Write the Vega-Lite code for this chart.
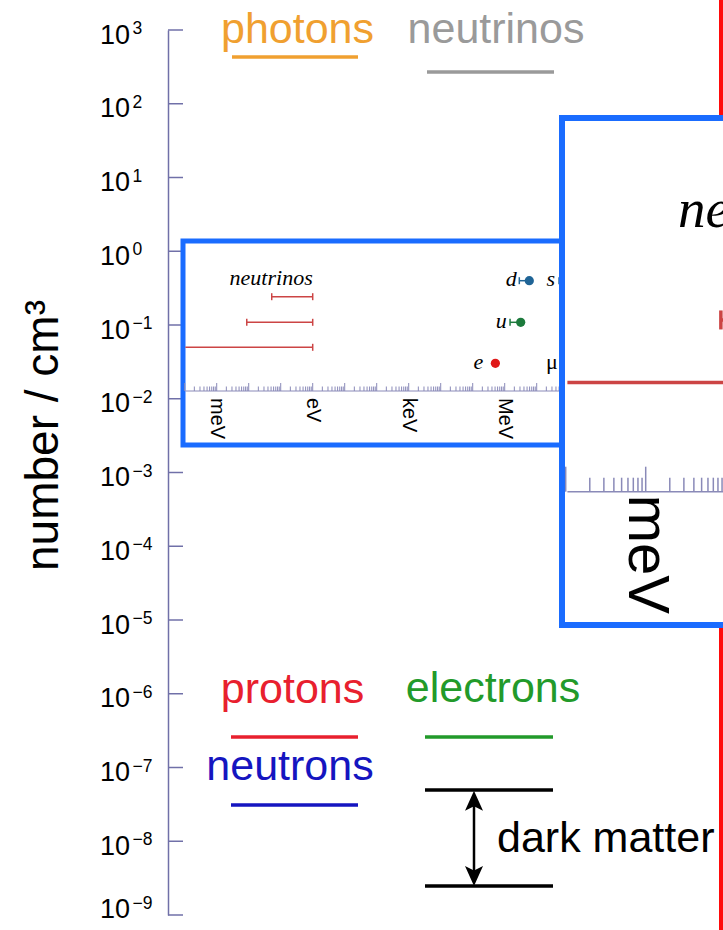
{
  "$schema": "https://vega.github.io/schema/vega-lite/v6.json",
  "width": 555,
  "height": 885,
  "autosize": {"type": "none"},
  "padding": {"left": 168, "top": 30, "right": 0, "bottom": 15},
  "background": "white",
  "config": {"view": {"stroke": null}},
  "datasets": {
    "decades": [{"n": 1e-9, "e": "−9"}, {"n": 1e-8, "e": "−8"}, {"n": 1e-7, "e": "−7"}, {"n": 1e-6, "e": "−6"}, {"n": 1e-5, "e": "−5"}, {"n": 1e-4, "e": "−4"}, {"n": 1e-3, "e": "−3"}, {"n": 0.01, "e": "−2"}, {"n": 0.1, "e": "−1"}, {"n": 1, "e": "0"}, {"n": 10, "e": "1"}, {"n": 100, "e": "2"}, {"n": 1000, "e": "3"}],
    "legendText": [
      {"key": "photons", "x": 129.5, "y": 13},
      {"key": "neutrinos", "x": 328, "y": 13},
      {"key": "protons", "x": 124.5, "y": 673},
      {"key": "electrons", "x": 325, "y": 672},
      {"key": "neutrons", "x": 122, "y": 750}
    ],
    "dmText": [{"key": "dark matter", "x": 329, "y": 822}],
    "legendLines": [
      {"key": "photons", "x": 64, "x2": 190, "y": 27},
      {"key": "neutrinos", "x": 259, "x2": 386, "y": 42},
      {"key": "protons", "x": 63, "x2": 190, "y": 707},
      {"key": "electrons", "x": 257, "x2": 385, "y": 707},
      {"key": "neutrons", "x": 63, "x2": 190, "y": 775},
      {"key": "dark matter", "x": 257, "x2": 385, "y": 760},
      {"key": "dark matter", "x": 257, "x2": 385, "y": 856}
    ],
    "arrowShaft": [{"x": 306, "y": 765, "y2": 851}],
    "arrowHeads": [{"dir": "up", "x": 306, "y": 770.7}, {"dir": "down", "x": 306, "y": 846}],
    "redLine": [{"x": 553, "y": -30, "y2": 900}],
    "box1": [{"x": 15, "x2": 394, "y": 211, "y2": 415}],
    "box2": [{"x": 394, "x2": 580, "y": 88, "y2": 595}],
    "axisLine": [{"E": 1.05e-4, "E2": 1e9, "v": 0}],
    "majorTicks": [{"E": 1e-4, "v": 0}, {"E": 1e-3, "v": 0}, {"E": 0.01, "v": 0}, {"E": 0.1, "v": 0}, {"E": 1, "v": 0}, {"E": 10, "v": 0}, {"E": 100, "v": 0}, {"E": 1000, "v": 0}, {"E": 1e4, "v": 0}, {"E": 1e5, "v": 0}, {"E": 1e6, "v": 0}, {"E": 1e7, "v": 0}, {"E": 1e8, "v": 0}],
    "minorTicks": [
      {"E": 2e-4, "v": 0}, {"E": 3e-4, "v": 0}, {"E": 4e-4, "v": 0}, {"E": 5e-4, "v": 0}, {"E": 6e-4, "v": 0}, {"E": 7e-4, "v": 0}, {"E": 8e-4, "v": 0}, {"E": 9e-4, "v": 0},
      {"E": 2e-3, "v": 0}, {"E": 3e-3, "v": 0}, {"E": 4e-3, "v": 0}, {"E": 5e-3, "v": 0}, {"E": 6e-3, "v": 0}, {"E": 7e-3, "v": 0}, {"E": 8e-3, "v": 0}, {"E": 9e-3, "v": 0},
      {"E": 0.02, "v": 0}, {"E": 0.03, "v": 0}, {"E": 0.04, "v": 0}, {"E": 0.05, "v": 0}, {"E": 0.06, "v": 0}, {"E": 0.07, "v": 0}, {"E": 0.08, "v": 0}, {"E": 0.09, "v": 0},
      {"E": 0.2, "v": 0}, {"E": 0.3, "v": 0}, {"E": 0.4, "v": 0}, {"E": 0.5, "v": 0}, {"E": 0.6, "v": 0}, {"E": 0.7, "v": 0}, {"E": 0.8, "v": 0}, {"E": 0.9, "v": 0},
      {"E": 2, "v": 0}, {"E": 3, "v": 0}, {"E": 4, "v": 0}, {"E": 5, "v": 0}, {"E": 6, "v": 0}, {"E": 7, "v": 0}, {"E": 8, "v": 0}, {"E": 9, "v": 0},
      {"E": 20, "v": 0}, {"E": 30, "v": 0}, {"E": 40, "v": 0}, {"E": 50, "v": 0}, {"E": 60, "v": 0}, {"E": 70, "v": 0}, {"E": 80, "v": 0}, {"E": 90, "v": 0},
      {"E": 200, "v": 0}, {"E": 300, "v": 0}, {"E": 400, "v": 0}, {"E": 500, "v": 0}, {"E": 600, "v": 0}, {"E": 700, "v": 0}, {"E": 800, "v": 0}, {"E": 900, "v": 0},
      {"E": 2000, "v": 0}, {"E": 3000, "v": 0}, {"E": 4000, "v": 0}, {"E": 5000, "v": 0}, {"E": 6000, "v": 0}, {"E": 7000, "v": 0}, {"E": 8000, "v": 0}, {"E": 9000, "v": 0},
      {"E": 2e4, "v": 0}, {"E": 3e4, "v": 0}, {"E": 4e4, "v": 0}, {"E": 5e4, "v": 0}, {"E": 6e4, "v": 0}, {"E": 7e4, "v": 0}, {"E": 8e4, "v": 0}, {"E": 9e4, "v": 0},
      {"E": 2e5, "v": 0}, {"E": 3e5, "v": 0}, {"E": 4e5, "v": 0}, {"E": 5e5, "v": 0}, {"E": 6e5, "v": 0}, {"E": 7e5, "v": 0}, {"E": 8e5, "v": 0}, {"E": 9e5, "v": 0},
      {"E": 2e6, "v": 0}, {"E": 3e6, "v": 0}, {"E": 4e6, "v": 0}, {"E": 5e6, "v": 0}, {"E": 6e6, "v": 0}, {"E": 7e6, "v": 0}, {"E": 8e6, "v": 0}, {"E": 9e6, "v": 0},
      {"E": 2e7, "v": 0}, {"E": 3e7, "v": 0}, {"E": 4e7, "v": 0}, {"E": 5e7, "v": 0}, {"E": 6e7, "v": 0}, {"E": 7e7, "v": 0}, {"E": 8e7, "v": 0}, {"E": 9e7, "v": 0}
    ],
    "units": [{"t": "meV", "E": 1e-3, "v": 0}, {"t": "eV", "E": 1, "v": 0}, {"t": "keV", "E": 1000, "v": 0}, {"t": "MeV", "E": 1e6, "v": 0}, {"t": "GeV", "E": 1e9, "v": 0}],
    "nuBars": [{"E": 0.0524, "E2": 1, "v": 94.3}, {"E": 0.0087, "E2": 1, "v": 68.7}, {"E": 1.05e-4, "E2": 1, "v": 43.7}],
    "nuCaps": [{"E": 0.0524, "v": 94.3}, {"E": 1, "v": 94.3}, {"E": 0.0087, "v": 68.7}, {"E": 1, "v": 68.7}, {"E": 1, "v": 43.7}],
    "nuLabel": [{"t": "neutrinos", "E": 1, "v": 106}],
    "qBars": [{"key": "u", "E": 1.47e6, "E2": 3.16e6, "v": 68.7}, {"key": "d", "E": 2.86e6, "E2": 5.87e6, "v": 110.3}, {"key": "s", "E": 5e7, "E2": 1.05e8, "v": 110.3}],
    "dots": [{"key": "e", "E": 5.11e5, "v": 27.7}, {"key": "u", "E": 3.16e6, "v": 68.7}, {"key": "d", "E": 5.87e6, "v": 110.3}, {"key": "s", "E": 1.05e8, "v": 110.3}, {"key": "μ", "E": 1.057e8, "v": 27.7}],
    "tags": [{"t": "e", "E": 2.14e5, "v": 27.7}, {"t": "u", "E": 1.155e6, "v": 68.7}, {"t": "d", "E": 2.37e6, "v": 110.3}, {"t": "s", "E": 3.73e7, "v": 110.3}],
    "tagsUpright": [{"t": "μ", "E": 4.6e7, "v": 27.7}]
  },
  "resolve": {"scale": {"x": "independent", "y": "independent"}},
  "layer": [
    {
      "data": {"name": "decades"},
      "encoding": {
        "y": {
          "field": "n", "type": "quantitative",
          "scale": {"type": "log", "domain": [1e-9, 1000], "nice": false},
          "axis": {
            "title": "number / cm³",
            "values": [1e-9, 1e-8, 1e-7, 1e-6, 1e-5, 1e-4, 1e-3, 0.01, 0.1, 1, 10, 100, 1000],
            "labels": false, "grid": false, "ticks": false,
            "domainColor": "#7070a8", "domainWidth": 1.5,
            "titleFont": "Liberation Sans", "titleFontSize": 46, "titleFontWeight": "normal", "titleColor": "black",
            "titleAngle": -90, "titleX": -125, "titleY": 405, "titleAlign": "center", "titleBaseline": "middle"
          }
        },
        "x": {"datum": 0, "type": "quantitative", "scale": {"domain": [0, 555], "nice": false, "zero": false}, "axis": null}
      },
      "layer": [
        {
          "mark": {"type": "rule", "color": "#7070a8", "strokeWidth": 1.5},
          "encoding": {"x2": {"datum": 15}}
        },
        {
          "transform": [{"filter": "datum.n > 2e-9"}],
          "mark": {"type": "text", "text": "10", "align": "left", "baseline": "alphabetic", "dy": 13.5, "font": "Liberation Sans", "fontSize": 27, "color": "black"},
          "encoding": {"x": {"datum": -68, "type": "quantitative"}}
        },
        {
          "transform": [{"filter": "datum.n > 2e-9"}],
          "mark": {"type": "text", "align": "left", "baseline": "alphabetic", "dy": 4, "font": "Liberation Sans", "fontSize": 17.5, "color": "black"},
          "encoding": {"x": {"datum": -35.5, "type": "quantitative"}, "text": {"field": "e"}}
        },
        {
          "transform": [{"filter": "datum.n < 2e-9"}],
          "mark": {"type": "text", "text": "10", "align": "left", "baseline": "alphabetic", "dy": 2.5, "font": "Liberation Sans", "fontSize": 27, "color": "black"},
          "encoding": {"x": {"datum": -68, "type": "quantitative"}}
        },
        {
          "transform": [{"filter": "datum.n < 2e-9"}],
          "mark": {"type": "text", "align": "left", "baseline": "alphabetic", "dy": -6.5, "font": "Liberation Sans", "fontSize": 17.5, "color": "black"},
          "encoding": {"x": {"datum": -35.5, "type": "quantitative"}, "text": {"field": "e"}}
        }
      ]
    },
    {
      "encoding": {
        "x": {"field": "x", "type": "quantitative", "scale": {"domain": [0, 555], "nice": false, "zero": false}, "axis": null},
        "y": {"field": "y", "type": "quantitative", "scale": {"domain": [0, 885], "reverse": true, "nice": false, "zero": false}, "axis": null}
      },
      "layer": [
        {
          "data": {"name": "legendText"},
          "mark": {"type": "text", "font": "Liberation Sans", "fontSize": 43, "align": "center", "baseline": "alphabetic"},
          "encoding": {
            "text": {"field": "key"},
            "color": {"field": "key", "type": "nominal", "legend": null,
              "scale": {"domain": ["photons", "neutrinos", "protons", "electrons", "neutrons", "dark matter", "e", "u", "d", "s", "μ"],
                        "range": ["#f0a030", "#9a9a9a", "#e8202e", "#229a2a", "#1515c0", "#000000", "#e01818", "#1c7a3c", "#1f6496", "#1f6496", "#000000"]}}
          }
        },
        {
          "data": {"name": "dmText"},
          "mark": {"type": "text", "font": "Liberation Sans", "fontSize": 43, "align": "left", "baseline": "alphabetic", "color": "black"},
          "encoding": {"text": {"field": "key"}}
        },
        {
          "data": {"name": "legendLines"},
          "mark": {"type": "rule", "strokeWidth": 3.5},
          "encoding": {
            "x2": {"field": "x2"},
            "color": {"field": "key", "type": "nominal", "legend": null}
          }
        },
        {
          "data": {"name": "arrowShaft"},
          "mark": {"type": "rule", "strokeWidth": 2.5, "color": "black"},
          "encoding": {"y2": {"field": "y2"}}
        },
        {
          "data": {"name": "arrowHeads"},
          "mark": {"type": "point", "filled": true, "size": 400, "opacity": 1, "color": "black", "strokeWidth": 0},
          "encoding": {
            "shape": {"field": "dir", "type": "nominal", "legend": null,
              "scale": {"domain": ["up", "down"], "range": ["M0,-1L0.9,1L0,0.55L-0.9,1Z", "M0,1L0.9,-1L0,-0.55L-0.9,-1Z"]}}
          }
        },
        {
          "data": {"name": "redLine"},
          "mark": {"type": "rule", "strokeWidth": 4, "color": "#ff0a0a"},
          "encoding": {"y2": {"field": "y2"}}
        },
        {
          "data": {"name": "box1"},
          "mark": {"type": "rect", "fill": "white", "stroke": "#1a6cff", "strokeWidth": 5},
          "encoding": {"x2": {"field": "x2"}, "y2": {"field": "y2"}}
        }
      ]
    },
    {
      "encoding": {
        "x": {"field": "E", "type": "quantitative", "scale": {"type": "log", "domain": [3.006e-5, 6.636e12], "nice": false}, "axis": null},
        "y": {"field": "v", "type": "quantitative", "scale": {"domain": [-524, 361], "nice": false, "zero": false}, "axis": null}
      },
      "layer": [
        {"data": {"name": "axisLine"}, "mark": {"type": "rule", "color": "#8a8ab8", "strokeWidth": 1}, "encoding": {"x2": {"field": "E2"}}},
        {"data": {"name": "majorTicks"}, "mark": {"type": "tick", "orient": "vertical", "size": 8, "thickness": 1, "yOffset": -4, "color": "#8a8ab8", "opacity": 1}},
        {"data": {"name": "minorTicks"}, "mark": {"type": "tick", "orient": "vertical", "size": 4.5, "thickness": 1, "yOffset": -2.25, "color": "#8a8ab8", "opacity": 1}},
        {"data": {"name": "units"}, "mark": {"type": "text", "angle": 90, "align": "left", "baseline": "middle", "dx": 7, "font": "Liberation Sans", "fontSize": 20, "color": "black"}, "encoding": {"text": {"field": "t"}}},
        {"data": {"name": "nuBars"}, "mark": {"type": "rule", "color": "#cc4444", "strokeWidth": 1.5}, "encoding": {"x2": {"field": "E2"}}},
        {"data": {"name": "nuCaps"}, "mark": {"type": "tick", "orient": "vertical", "size": 7, "thickness": 1.5, "color": "#cc4444", "opacity": 1}},
        {"data": {"name": "nuLabel"}, "mark": {"type": "text", "align": "right", "baseline": "alphabetic", "font": "Liberation Serif", "fontStyle": "italic", "fontSize": 22, "color": "black"}, "encoding": {"text": {"field": "t"}}},
        {"data": {"name": "qBars"}, "mark": {"type": "rule", "strokeWidth": 1.5}, "encoding": {"x2": {"field": "E2"}, "color": {"field": "key", "type": "nominal", "legend": null}}},
        {"data": {"name": "qBars"}, "mark": {"type": "tick", "orient": "vertical", "size": 7, "thickness": 1.5, "opacity": 1}, "encoding": {"color": {"field": "key", "type": "nominal", "legend": null}}},
        {"data": {"name": "dots"}, "mark": {"type": "point", "filled": true, "size": 85, "opacity": 1, "shape": "circle"}, "encoding": {"color": {"field": "key", "type": "nominal", "legend": null}}},
        {"data": {"name": "tags"}, "mark": {"type": "text", "align": "right", "baseline": "alphabetic", "dy": 5.5, "font": "Liberation Serif", "fontStyle": "italic", "fontSize": 22, "color": "black"}, "encoding": {"text": {"field": "t"}}},
        {"data": {"name": "tagsUpright"}, "mark": {"type": "text", "align": "right", "baseline": "alphabetic", "dy": 5.5, "font": "Liberation Serif", "fontSize": 22, "color": "black"}, "encoding": {"text": {"field": "t"}}}
      ]
    },
    {
      "data": {"name": "box2"},
      "mark": {"type": "rect", "fill": "white", "stroke": "#1a6cff", "strokeWidth": 6},
      "encoding": {
        "x": {"field": "x", "type": "quantitative", "scale": {"domain": [0, 555], "nice": false, "zero": false}, "axis": null},
        "x2": {"field": "x2"},
        "y": {"field": "y", "type": "quantitative", "scale": {"domain": [0, 885], "reverse": true, "nice": false, "zero": false}, "axis": null},
        "y2": {"field": "y2"}
      }
    },
    {
      "encoding": {
        "x": {"field": "E", "type": "quantitative", "scale": {"type": "log", "domain": [1.069e-9, 9.249e-3], "nice": false}, "axis": null},
        "y": {"field": "v", "type": "quantitative", "scale": {"domain": [-169.32, 184.68], "nice": false, "zero": false}, "axis": null}
      },
      "layer": [
        {"data": {"name": "axisLine"}, "mark": {"type": "rule", "color": "#8a8ab8", "strokeWidth": 1.5}, "encoding": {"x2": {"field": "E2"}}},
        {"data": {"name": "majorTicks"}, "transform": [{"filter": "datum.E < 0.01"}], "mark": {"type": "tick", "orient": "vertical", "size": 25, "thickness": 1.5, "yOffset": -12.5, "color": "#8a8ab8", "opacity": 1}},
        {"data": {"name": "minorTicks"}, "transform": [{"filter": "datum.E < 0.01"}], "mark": {"type": "tick", "orient": "vertical", "size": 14, "thickness": 1.5, "yOffset": -7, "color": "#8a8ab8", "opacity": 1}},
        {"data": {"name": "units"}, "transform": [{"filter": "datum.E < 0.005"}], "mark": {"type": "text", "angle": 90, "align": "left", "baseline": "middle", "dx": 3, "font": "Liberation Sans", "fontSize": 58, "color": "black"}, "encoding": {"text": {"field": "t"}}},
        {"data": {"name": "nuBars"}, "mark": {"type": "rule", "color": "#cc4444", "strokeWidth": 3.5}, "encoding": {"x2": {"field": "E2"}}},
        {"data": {"name": "nuCaps"}, "transform": [{"filter": "datum.E < 0.01"}], "mark": {"type": "tick", "orient": "vertical", "size": 19, "thickness": 3.5, "color": "#cc4444", "opacity": 1}},
        {"data": {"name": "nuLabel"}, "mark": {"type": "text", "align": "right", "baseline": "alphabetic", "font": "Liberation Serif", "fontStyle": "italic", "fontSize": 55, "color": "black"}, "encoding": {"text": {"field": "t"}}}
      ]
    }
  ]
}
